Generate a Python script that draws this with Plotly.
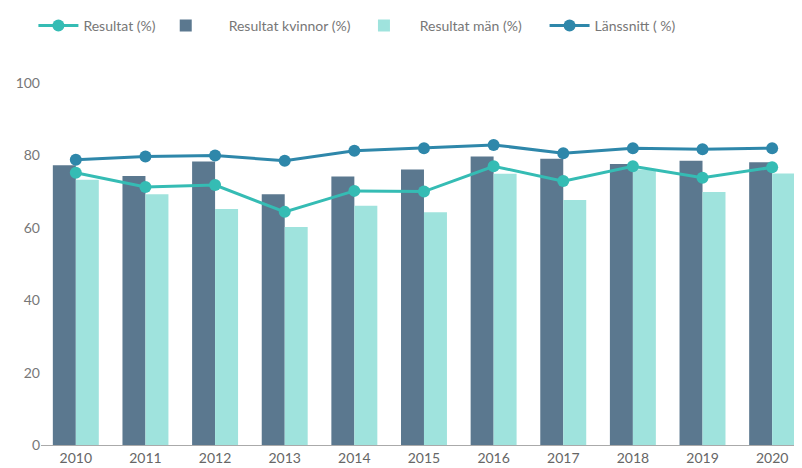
import plotly.graph_objects as go

years = ["2010", "2011", "2012", "2013", "2014", "2015", "2016", "2017", "2018", "2019", "2020"]
resultat = [75.2, 71.3, 71.8, 64.4, 70.2, 70.0, 77.0, 72.9, 77.0, 73.8, 76.7]
kvinnor = [77.3, 74.3, 78.3, 69.3, 74.2, 76.1, 79.7, 79.1, 77.6, 78.5, 78.1]
man = [73.3, 69.3, 65.2, 60.2, 66.1, 64.3, 74.9, 67.7, 76.1, 69.9, 75.0]
lanssnitt = [78.8, 79.7, 80.0, 78.5, 81.3, 82.0, 82.9, 80.6, 82.0, 81.7, 82.0]
y_ticks = [0, 20, 40, 60, 80, 100]

C_RES = "#35bcb4"
C_KV = "#5b788f"
C_MAN = "#9fe3dd"
C_LAN = "#2e87aa"

NB = "\u00a0"  # non-breaking spaces widen legend entries like the reference's large swatches

fig = go.Figure()
fig.add_trace(go.Scatter(x=years, y=resultat, name="Resultat (%)", mode="lines+markers",
                         line=dict(color=C_RES, width=3), marker=dict(size=12, color=C_RES)))
fig.add_trace(go.Bar(x=years, y=kvinnor, name=NB * 5 + "Resultat kvinnor (%)" + NB * 1,
                     marker=dict(color=C_KV, line=dict(width=0))))
fig.add_trace(go.Bar(x=years, y=man, name=NB * 3 + "Resultat män (%)" + NB * 5,
                     marker=dict(color=C_MAN, line=dict(width=0))))
fig.add_trace(go.Scatter(x=years, y=lanssnitt, name="Länssnitt ( %)", mode="lines+markers",
                         line=dict(color=C_LAN, width=3), marker=dict(size=12, color=C_LAN)))

# page body has an 8px margin, so the figure is sized 8px smaller
fig.update_layout(
    width=794, height=460,
    margin=dict(l=33, r=2, t=72, b=21),
    paper_bgcolor="white", plot_bgcolor="white",
    barmode="group", bargap=0.34, bargroupgap=0,
    font=dict(family="Lato, Open Sans, sans-serif", size=14, color="#666"),
    legend=dict(orientation="h", x=-0.01, xanchor="left", y=1.158, yanchor="middle",
                font=dict(size=14, color="#777"), itemwidth=40),
    xaxis=dict(type="category", range=[-0.5, 10.4], showgrid=False, showline=True,
               linecolor="#aaa", linewidth=1, ticks="", tickfont=dict(size=14, color="#666")),
    yaxis=dict(range=[0, 100], tickvals=y_ticks, showgrid=False, zeroline=False,
               showline=False, ticks="", tickfont=dict(size=14, color="#777")),
)

fig.write_html("out.html")
